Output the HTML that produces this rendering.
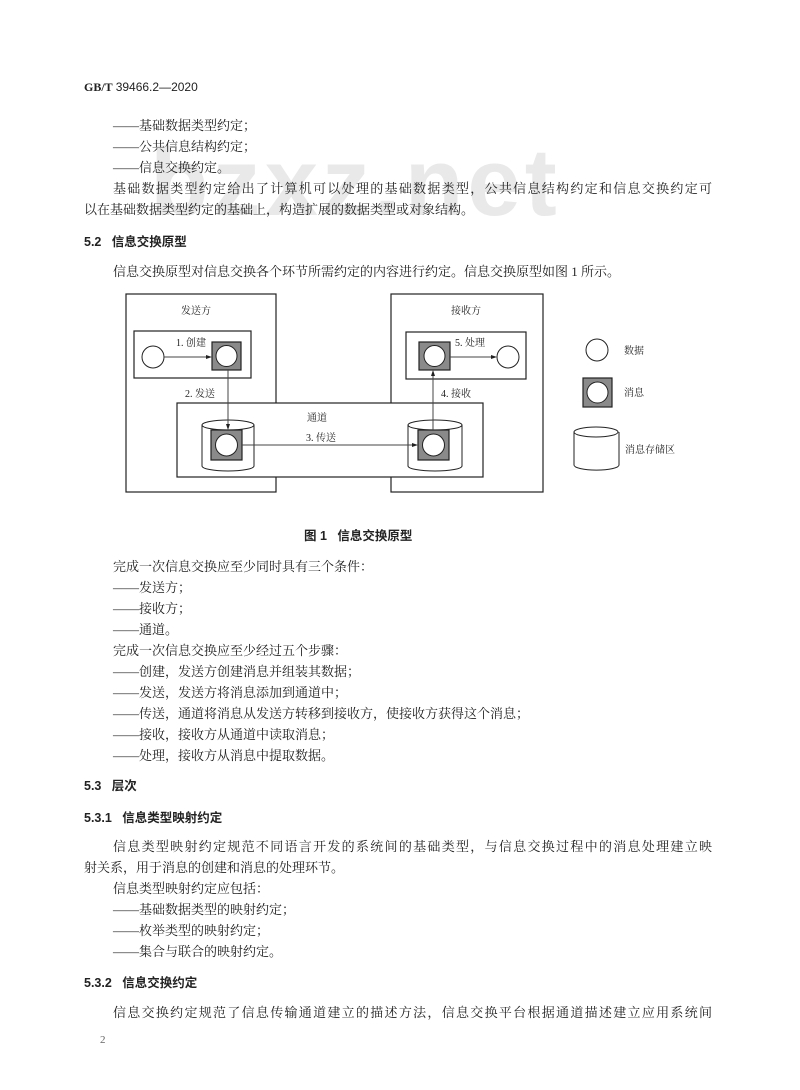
<!DOCTYPE html>
<html><head><meta charset="utf-8"><style>
body{margin:0;background:#fff;}
#p{position:relative;width:800px;height:1090px;overflow:hidden;background:#fff;font-family:"Liberation Serif","Noto Serif CJK SC","Noto Sans CJK SC",serif;color:#222;}
.l{position:absolute;font-size:13px;line-height:16px;white-space:nowrap;}
.j{text-align:justify;text-align-last:justify;white-space:normal;height:16px;overflow:hidden;}
.h{font-family:"Liberation Sans","Noto Sans CJK SC",sans-serif;font-weight:bold;font-size:12.5px;}
.wm{position:absolute;left:150px;top:128px;font-family:"Liberation Sans",sans-serif;font-weight:bold;font-size:96px;color:#e9e9e9;letter-spacing:4px;}
svg text{font-family:"Liberation Serif","Noto Serif CJK SC",serif;font-size:10px;fill:#222;}
</style></head><body><div id="p">
<div class="wm">bzxz.net</div>
<div class="l" style="left:84px;top:79px;font-size:12px;"><b>GB/T</b> <span style="font-family:'Liberation Sans',sans-serif">39466.2—2020</span></div>
<div class="l" style="left:113px;top:118px">——基础数据类型约定；</div>
<div class="l" style="left:113px;top:139px">——公共信息结构约定；</div>
<div class="l" style="left:113px;top:160px">——信息交换约定。</div>
<div class="l j" style="left:113px;top:181px;width:599px">基础数据类型约定给出了计算机可以处理的基础数据类型，公共信息结构约定和信息交换约定可</div>
<div class="l" style="left:84px;top:202px">以在基础数据类型约定的基础上，构造扩展的数据类型或对象结构。</div>
<div class="l h" style="left:84px;top:234px">5.2&nbsp;&nbsp;&nbsp;信息交换原型</div>
<div class="l" style="left:113px;top:264px">信息交换原型对信息交换各个环节所需约定的内容进行约定。信息交换原型如图 1 所示。</div>

<svg style="position:absolute;left:0;top:0" width="800" height="520">
<g fill="none" stroke="#222" stroke-width="1.2">
<rect x="126" y="294" width="150" height="198" fill="#fff"/>
<rect x="391" y="294" width="152" height="198" fill="#fff"/>
<rect x="177" y="403" width="306" height="74" fill="#fff"/>
<rect x="134" y="331" width="117" height="47"/>
<rect x="406" y="332" width="120" height="47"/>
</g>
<g stroke="#222" stroke-width="1" fill="#fff">
<path d="M202 425 V466 A26 5 0 0 0 254 466 V425"/><ellipse cx="228" cy="425" rx="26" ry="5"/>
<path d="M408 425 V466 A27 5 0 0 0 462 466 V425"/><ellipse cx="435" cy="425" rx="27" ry="5"/>
<path d="M574 432 V465 A22 5 0 0 0 619 465 V432"/><ellipse cx="596" cy="432" rx="22" ry="5"/>
</g>
<g stroke="#222" stroke-width="1.2" fill="#8a8a8a">
<rect x="212" y="342" width="29" height="28"/>
<rect x="419" y="342" width="31" height="28"/>
<rect x="211" y="430" width="31" height="30"/>
<rect x="418" y="430" width="31" height="30"/>
<rect x="583" y="378" width="29" height="29"/>
</g>
<g stroke="#222" stroke-width="1" fill="#fff">
<circle cx="226.5" cy="356" r="10.5"/><circle cx="434.5" cy="356" r="10.5"/>
<circle cx="226.5" cy="445" r="11"/><circle cx="433.5" cy="445" r="11"/>
<circle cx="597.5" cy="392.5" r="10.5"/>
<circle cx="153" cy="357" r="11"/><circle cx="508" cy="357" r="11"/>
<circle cx="597" cy="350" r="11"/>
</g>
<g stroke="#444" stroke-width="1">
<line x1="164" y1="357" x2="210" y2="357"/>
<line x1="450" y1="357" x2="495" y2="357"/>
<line x1="228" y1="370" x2="228" y2="428"/>
<line x1="433" y1="430" x2="433" y2="372"/>
<line x1="242" y1="445" x2="416" y2="445"/>
</g>
<g fill="#222">
<polygon points="212,357 206,355 206,359"/><polygon points="497,357 491,355 491,359"/>
<polygon points="228,430 226,424 230,424"/><polygon points="433,370 431,376 435,376"/>
<polygon points="418,445 412,443 412,447"/>
</g>
<text x="181" y="314">发送方</text>
<text x="451" y="314">接收方</text>
<text x="176" y="346">1. 创建</text>
<text x="455" y="346">5. 处理</text>
<text x="185" y="397">2. 发送</text>
<text x="441" y="397">4. 接收</text>
<text x="307" y="421">通道</text>
<text x="306" y="441">3. 传送</text>
<text x="624" y="354">数据</text>
<text x="624" y="396">消息</text>
<text x="625" y="453">消息存储区</text>
</svg>

<div class="l h" style="left:304px;top:528px">图 1&nbsp;&nbsp;&nbsp;信息交换原型</div>
<div class="l" style="left:113px;top:559px">完成一次信息交换应至少同时具有三个条件：</div>
<div class="l" style="left:113px;top:580px">——发送方；</div>
<div class="l" style="left:113px;top:601px">——接收方；</div>
<div class="l" style="left:113px;top:622px">——通道。</div>
<div class="l" style="left:113px;top:643px">完成一次信息交换应至少经过五个步骤：</div>
<div class="l" style="left:113px;top:664px">——创建，发送方创建消息并组装其数据；</div>
<div class="l" style="left:113px;top:685px">——发送，发送方将消息添加到通道中；</div>
<div class="l" style="left:113px;top:706px">——传送，通道将消息从发送方转移到接收方，使接收方获得这个消息；</div>
<div class="l" style="left:113px;top:727px">——接收，接收方从通道中读取消息；</div>
<div class="l" style="left:113px;top:748px">——处理，接收方从消息中提取数据。</div>
<div class="l h" style="left:84px;top:778px">5.3&nbsp;&nbsp;&nbsp;层次</div>
<div class="l h" style="left:84px;top:810px">5.3.1&nbsp;&nbsp;&nbsp;信息类型映射约定</div>
<div class="l j" style="left:113px;top:839px;width:599px">信息类型映射约定规范不同语言开发的系统间的基础类型，与信息交换过程中的消息处理建立映</div>
<div class="l" style="left:84px;top:860px">射关系，用于消息的创建和消息的处理环节。</div>
<div class="l" style="left:113px;top:881px">信息类型映射约定应包括：</div>
<div class="l" style="left:113px;top:902px">——基础数据类型的映射约定；</div>
<div class="l" style="left:113px;top:923px">——枚举类型的映射约定；</div>
<div class="l" style="left:113px;top:944px">——集合与联合的映射约定。</div>
<div class="l h" style="left:84px;top:975px">5.3.2&nbsp;&nbsp;&nbsp;信息交换约定</div>
<div class="l j" style="left:113px;top:1005px;width:599px">信息交换约定规范了信息传输通道建立的描述方法，信息交换平台根据通道描述建立应用系统间</div>
<div class="l" style="left:100px;top:1032px;font-size:11px;color:#666">2</div>
</div></body></html>
